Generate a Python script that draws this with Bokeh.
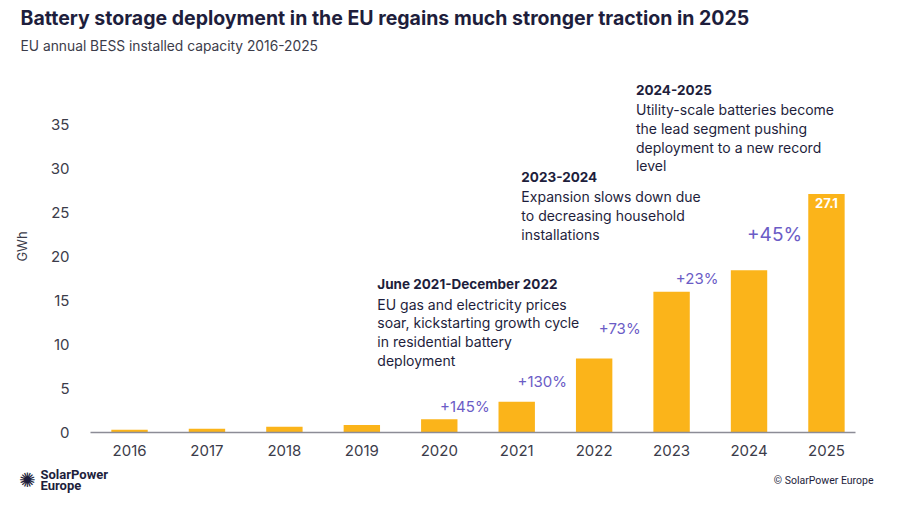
from bokeh.plotting import figure
from bokeh.layouts import column
from bokeh.models import ColumnDataSource, Label, FixedTicker, Range1d
from bokeh.embed import file_html
from bokeh.resources import INLINE
from bokeh.core.properties import value

# ---- data ----
years = [2016, 2017, 2018, 2019, 2020, 2021, 2022, 2023, 2024, 2025]
capacity_gwh = [0.3, 0.42, 0.65, 0.85, 1.5, 3.5, 8.4, 16.0, 18.45, 27.1]
year_labels = ["2016", "2017", "2018", "2019", "2020", "2021", "2022", "2023", "2024", "2025"]
y_ticks = [0, 5, 10, 15, 20, 25, 30, 35]

growth_text = ["+145%", "+130%", "+73%", "+23%", "+45%"]
growth_year = [2020, 2021, 2022, 2023, 2024]
growth_y = [3.0, 5.8, 11.8, 17.5, 22.5]
growth_size = ["15px", "15px", "15px", "15px", "19px"]

value_label = "27.1"

notes = [
    ("June 2021-December 2022",
     ["EU gas and electricity prices", "soar, kickstarting growth cycle",
      "in residential battery", "deployment"], 2019.20, 16.86),
    ("2023-2024",
     ["Expansion slows down due", "to decreasing household", "installations"], 2021.06, 29.06),
    ("2024-2025",
     ["Utility-scale batteries become", "the lead segment pushing",
      "deployment to a new record", "level"], 2022.54, 38.94),
]

TITLE = "Battery storage deployment in the EU regains much stronger traction in 2025"
SUBTITLE = "EU annual BESS installed capacity 2016-2025"
LOGO_LINES = ["SolarPower", "Europe"]
CREDIT = "© SolarPower Europe"

# ---- style ----
FONT = "Inter"
HFONT = "Roboto"
BAR = "#FBB41A"
PURPLE = "#6B5CC6"
NAVY = "#1E1E3C"
GREY = "#3C3C4A"
W = 884


def blank(h):
    f = figure(width=W, height=h, output_backend="svg", toolbar_location=None,
               x_range=Range1d(0, W), y_range=Range1d(0, h),
               x_axis_type=None, y_axis_type=None, frame_align=False,
               min_border=0, min_border_left=0, min_border_right=0,
               min_border_top=0, min_border_bottom=0)
    f.outline_line_color = None
    f.grid.grid_line_color = None
    return f


# ---- header ----
head = blank(60)
head.add_layout(Label(x=20, y=43, text=TITLE, text_font=FONT, text_font_size="19.5px",
                      text_font_style="bold", text_color=NAVY, text_baseline="middle"))
head.add_layout(Label(x=20, y=15, text=SUBTITLE, text_font=FONT, text_font_size="13.8px",
                      text_color=GREY, text_baseline="middle"))

# ---- main chart ----
p = figure(width=W, height=398, output_backend="svg", toolbar_location=None, frame_align=False,
           x_range=Range1d(2015.496, 2025.375), y_range=Range1d(0, 42.27),
           min_border_left=90, min_border_right=29, min_border_bottom=26, min_border_top=0)
p.outline_line_color = None
p.grid.grid_line_color = None

src = ColumnDataSource(dict(x=years, top=capacity_gwh))
p.vbar(x="x", top="top", width=0.47, bottom=0, source=src, fill_color=BAR, line_color=None)

xa = p.xaxis[0]
xa.ticker = FixedTicker(ticks=years)
xa.major_label_overrides = {y: l for y, l in zip(years, year_labels)}
xa.major_tick_line_color = None
xa.minor_tick_line_color = None
xa.axis_line_color = "#8C8C96"
xa.axis_line_width = 1.5
xa.major_label_standoff = 6
xa.major_label_text_font = FONT
xa.major_label_text_font_size = "15px"
xa.major_label_text_color = GREY

ya = p.yaxis[0]
ya.ticker = FixedTicker(ticks=y_ticks)
ya.axis_line_color = None
ya.major_tick_line_color = None
ya.minor_tick_line_color = None
ya.major_label_standoff = 15
ya.major_label_text_font = FONT
ya.major_label_text_font_size = "15px"
ya.major_label_text_color = GREY
ya.axis_label = "GWh"
ya.axis_label_text_font = FONT
ya.axis_label_text_font_style = "normal"
ya.axis_label_text_font_size = "13px"
ya.axis_label_text_color = GREY
ya.axis_label_standoff = 18

gsrc = ColumnDataSource(dict(x=[y + 0.33 for y in growth_year], y=growth_y, t=growth_text, s=growth_size))
p.text(x="x", y="y", text="t", source=gsrc, text_font=value(FONT), text_font_size="s",
       text_color=PURPLE, text_font_style="normal", text_align="center", text_baseline="middle")

p.add_layout(Label(x=years[-1], y=26.1, text=value_label, text_font=FONT, text_font_size="13px",
                   text_color="white", text_font_style="bold", text_align="center", text_baseline="middle"))

for hd, lines, nx, ny in notes:
    p.add_layout(Label(x=nx, y=ny, text=hd, text_font=FONT, text_font_size="13.5px",
                       text_font_style="bold", text_color=NAVY, text_baseline="middle"))
    for i, ln in enumerate(lines):
        p.add_layout(Label(x=nx, y=ny, y_offset=-20 - 18.7 * i, text=ln, text_font=FONT,
                           text_font_size="14px", text_color=NAVY, text_baseline="middle"))

# ---- footer ----
foot = blank(36)
foot.add_layout(Label(x=27, y=15, text="✺", text_font="DejaVu Sans", text_font_size="20px",
                      text_color=NAVY, text_align="center", text_baseline="middle"))
foot.add_layout(Label(x=40, y=20, text=LOGO_LINES[0], text_font=HFONT, text_font_size="13px",
                      text_font_style="bold", text_color=NAVY, text_baseline="middle"))
foot.add_layout(Label(x=40, y=9, text=LOGO_LINES[1], text_font=HFONT, text_font_size="13px",
                      text_font_style="bold", text_color=NAVY, text_baseline="middle"))
foot.add_layout(Label(x=873, y=14, text=CREDIT, text_font=HFONT, text_font_size="10.5px",
                      text_color=NAVY, text_align="right", text_baseline="middle"))

layout = column(head, p, foot, spacing=0)
open("out.html", "w").write(file_html(layout, INLINE))
